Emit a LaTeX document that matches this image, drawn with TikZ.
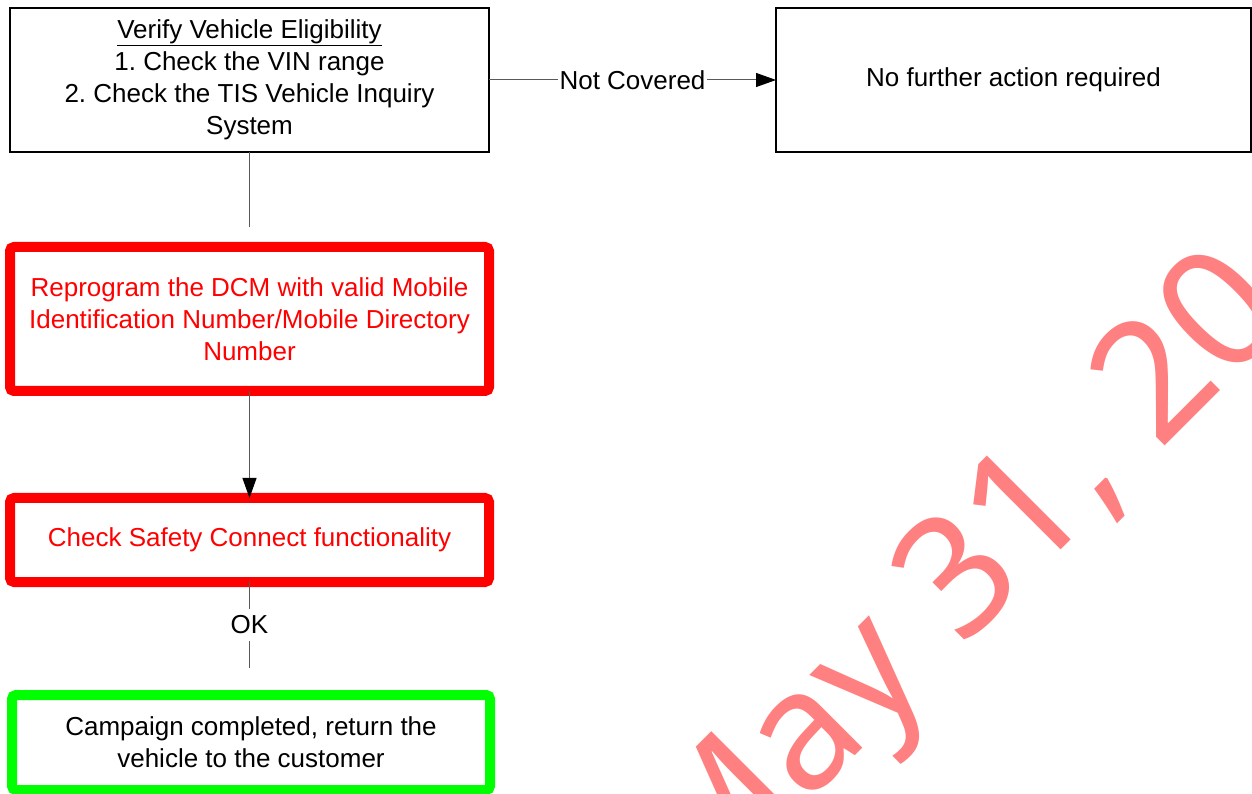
\documentclass[tikz,border=0pt]{standalone}
\usepackage{fontspec}
\setmainfont{Liberation Sans}
\newfontfamily\wmfont{Noto Sans}
\usetikzlibrary{arrows.meta}
\definecolor{wm}{HTML}{FF8080}
\definecolor{okgreen}{HTML}{00FF00}
\definecolor{alertred}{HTML}{FF0000}
\frenchspacing
\tikzset{
  plainbox/.style={draw=black, line width=1.3pt, align=center, inner sep=0pt, outer sep=0pt, font=\fontsize{26}{32}\selectfont},
  redbox/.style={draw=alertred, line width=10pt, rounded corners=4pt, align=center, inner sep=0pt, outer sep=0pt, text=alertred, font=\fontsize{26}{32}\selectfont},
  greenbox/.style={draw=okgreen, line width=10pt, rounded corners=4pt, align=center, inner sep=0pt, outer sep=0pt, font=\fontsize{26}{32}\selectfont},
  conn/.style={draw=black!65, line width=1pt},
  arrowconn/.style={draw=black!65, line width=1pt, -{Triangle[length=20pt,width=14pt,color=black]}},
  lbl/.style={fill=white, inner xsep=2pt, inner ysep=7pt, font=\fontsize{26}{32}\selectfont, text=black}
}
\begin{document}
\begin{tikzpicture}[x=1pt,y=1pt]
\useasboundingbox (0,0) rectangle (1252,793);
\fill[white] (0,0) rectangle (1252,793);
\begin{scope}
\clip (0,0) rectangle (1252,793);
\node[rotate=45, anchor=base west, text=wm, inner sep=0pt, font=\wmfont\fontsize{166}{166}\selectfont] (wmark) at (700,-118) {May 31, 20};
\node[plainbox, minimum width=479pt, minimum height=144pt] (elig) at (249.5,713)
  {\underline{Verify Vehicle Eligibility}\\1. Check the VIN range\\2. Check the TIS Vehicle Inquiry\\System};
\node[plainbox, minimum width=475pt, minimum height=144pt] (noact) at (1013.5,713)
  {No further action required};
\node[redbox, minimum width=479pt, minimum height=144pt] (reprog) at (249.5,474)
  {Reprogram the DCM with valid Mobile\\Identification Number/Mobile Directory\\Number};
\node[redbox, minimum width=479pt, minimum height=84pt] (check) at (249.5,253)
  {Check Safety Connect functionality};
\node[greenbox, minimum width=478pt, minimum height=95pt] (done) at (251,50.5)
  {Campaign completed, return the\\vehicle to the customer};
\coordinate (e1) at (249.5,566);
\coordinate (e2) at (249.5,125);
\draw[arrowconn] (elig.east) -- node[lbl] {Not Covered} (noact.west);
\draw[conn] (elig.south) -- (e1);
\draw[arrowconn] (reprog.south) -- (check.north);
\draw[conn] (check.south) -- node[lbl] {OK} (e2);
\end{scope}
\end{tikzpicture}
\end{document}
